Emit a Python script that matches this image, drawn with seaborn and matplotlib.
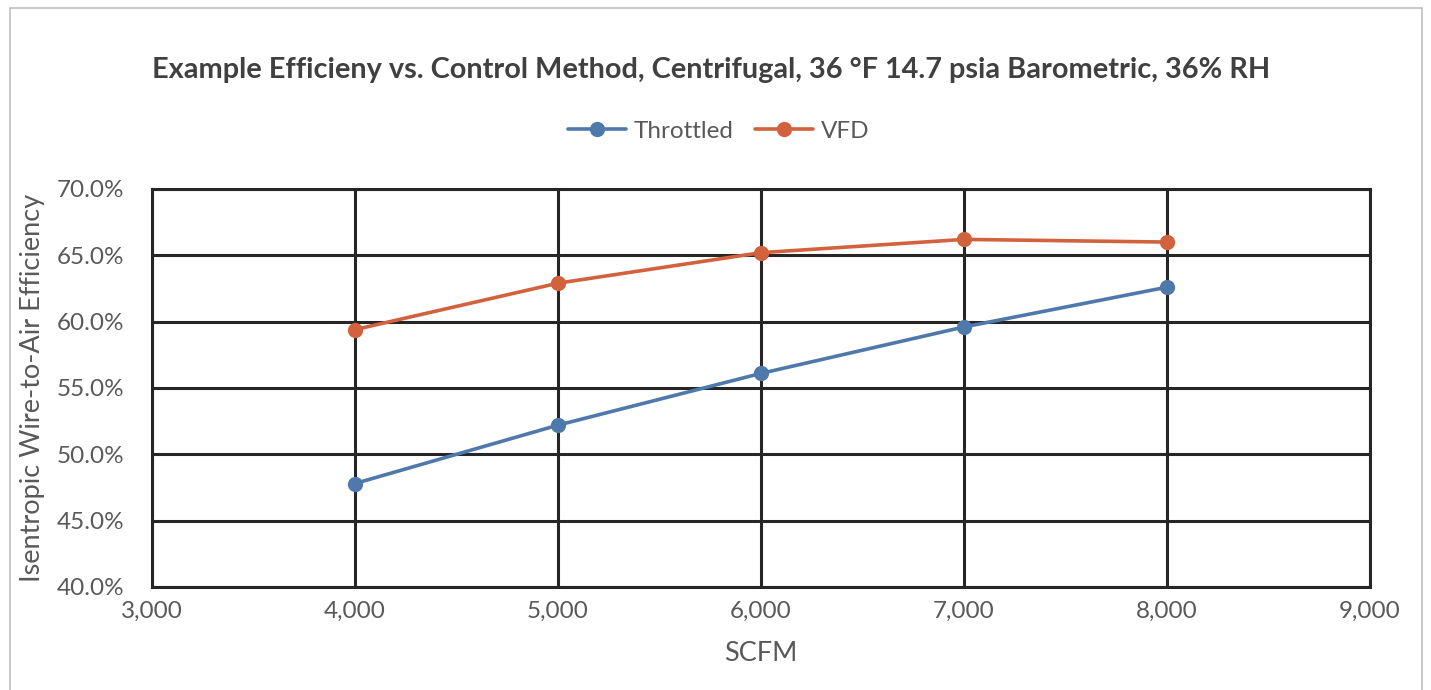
import pandas as pd
import matplotlib.pyplot as plt
import seaborn as sns
from matplotlib.patches import Rectangle
from matplotlib.ticker import FuncFormatter, MultipleLocator

# Data
scfm = [4000, 5000, 6000, 7000, 8000]
throttled = [0.478, 0.522, 0.561, 0.596, 0.626]
vfd = [0.594, 0.629, 0.652, 0.662, 0.660]
series_names = ['Throttled', 'VFD']
series_colors = ['#4F79AB', '#D2623D']

df = pd.concat([
    pd.DataFrame({'SCFM': scfm, 'Efficiency': throttled, 'Method': series_names[0]}),
    pd.DataFrame({'SCFM': scfm, 'Efficiency': vfd, 'Method': series_names[1]}),
])

sns.set_style('white')
plt.rcParams['font.family'] = ['Lato', 'DejaVu Sans']

fig = plt.figure(figsize=(14.31, 6.9), dpi=100)
ax = fig.add_axes([0.1062, 0.1493, 0.8512, 0.5768])

# light frame around the whole chart
fig.patches.append(Rectangle((0.007, -0.01), 0.987, 0.999, transform=fig.transFigure,
                             fill=False, edgecolor='#BFBFBF', linewidth=1.2))

sns.lineplot(data=df, x='SCFM', y='Efficiency', hue='Method', palette=series_colors,
             marker='o', markersize=11, markeredgewidth=0, linewidth=2.6, ax=ax,
             legend=False, zorder=3)

ax.set_xlim(3000, 9000)
ax.set_ylim(0.40, 0.70)
ax.xaxis.set_major_locator(MultipleLocator(1000))
ax.yaxis.set_major_locator(MultipleLocator(0.05))
ax.xaxis.set_major_formatter(FuncFormatter(lambda v, p: f'{v:,.0f}'))
ax.yaxis.set_major_formatter(FuncFormatter(lambda v, p: f'{v * 100:.1f}%'))
ax.grid(True, color='#262626', linewidth=2.2)
ax.set_axisbelow(True)
for s in ax.spines.values():
    s.set_color('#262626')
    s.set_linewidth(2.2)
ax.tick_params(axis='both', length=0, labelsize=17.5, colors='#595959')
ax.tick_params(axis='x', pad=10)
ax.tick_params(axis='y', pad=20)

ax.set_xlabel('SCFM', fontsize=19.5, color='#595959', labelpad=14)
ax.set_ylabel('Isentropic Wire-to-Air Efficiency', fontsize=19.5, color='#595959', labelpad=8)

fig.text(0.497, 0.898, 'Example Efficieny vs. Control Method, Centrifugal, 36 °F 14.7 psia Barometric, 36% RH',
         ha='center', va='center', fontsize=20.8, fontweight='bold', color='#404040')

handles = [plt.Line2D([], [], color=c, marker='o', markersize=11, markeredgewidth=0, linewidth=2.6)
           for c in series_colors]
fig.legend(handles, series_names, loc='center', bbox_to_anchor=(0.502, 0.81), ncol=2,
           frameon=False, fontsize=17.5, labelcolor='#595959', handlelength=2.4,
           columnspacing=0.9, handletextpad=0.3)

fig.savefig('out.png', dpi=100, facecolor='white')
